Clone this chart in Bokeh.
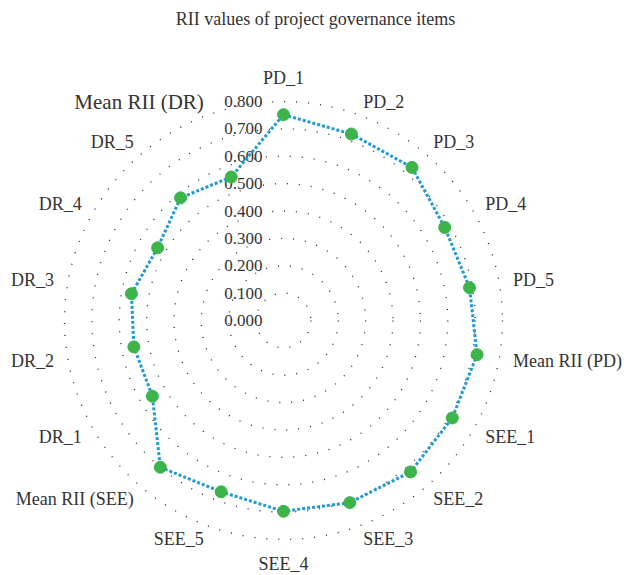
import numpy as np
from bokeh.plotting import figure
from bokeh.models import ColumnDataSource, Range1d, Label
from bokeh.core.properties import value
from bokeh.embed import file_html
from bokeh.resources import INLINE

categories = ["PD_1", "PD_2", "PD_3", "PD_4", "PD_5", "Mean RII (PD)",
              "SEE_1", "SEE_2", "SEE_3", "SEE_4", "SEE_5", "Mean RII (SEE)",
              "DR_1", "DR_2", "DR_3", "DR_4", "DR_5", "Mean RII (DR)"]
rii = [0.752, 0.725, 0.730, 0.680, 0.690, 0.718,
       0.712, 0.722, 0.708, 0.697, 0.666, 0.700,
       0.553, 0.555, 0.564, 0.531, 0.585, 0.558]
ticks = [0.0, 0.1, 0.2, 0.3, 0.4, 0.5, 0.6, 0.7, 0.8]
tick_labels = ["0.000", "0.100", "0.200", "0.300", "0.400", "0.500", "0.600", "0.700", "0.800"]
title = "RII values of project governance items"

W, H = 624, 575
cx, cy = 283, 320          # pixel centre of the radar
scale = 219 / 0.8          # pixels per unit value
FONT_NAME = "serif"
FONT = value(FONT_NAME)
TXT = "#333333"

p = figure(width=W, height=H, output_backend="svg", toolbar_location=None,
           x_axis_type=None, y_axis_type=None, min_border=0,
           x_range=Range1d(-cx / scale, (W - cx) / scale),
           y_range=Range1d(-(H - cy) / scale, cy / scale))
p.grid.visible = False
p.outline_line_color = None
p.background_fill_color = "white"

n = len(categories)
theta = np.arange(n) * 2 * np.pi / n
vals = np.array(rii)

# rings
for t in ticks[1:]:
    p.circle(x=0, y=0, radius=t, fill_color=None, line_color="#222222",
             line_width=1.3, line_dash="1 11")

# tick labels
p.text(x=[0] * len(ticks), y=ticks, text=tick_labels, x_offset=-21,
       text_align="right", text_baseline="middle", text_font=FONT,
       text_font_size="17px", text_color=TXT)

# series
xs = vals * np.sin(theta)
ys = vals * np.cos(theta)
p.line(x=list(xs) + [xs[0]], y=list(ys) + [ys[0]], line_color="#1f9ad6",
       line_width=3, line_dash="3 2")
p.scatter(x=xs, y=ys, size=12, fill_color="#3cb44a", line_color="#3cb44a")

# category labels
R = 233 / scale
sx, cyy = np.sin(theta), np.cos(theta)
aligns = ["left" if s > 0.1 else ("right" if s < -0.1 else "center") for s in sx]
bases = ["bottom" if c > 0.95 else ("top" if c < -0.95 else "middle") for c in cyy]
sizes = ["21px" if c == "Mean RII (DR)" else "18px" for c in categories]
src = ColumnDataSource(dict(x=R * sx, y=R * cyy, text=categories,
                            align=aligns, base=bases, size=sizes))
p.text(x="x", y="y", text="text", source=src, text_align="align",
       text_baseline="base", text_font_size="size", text_font=FONT,
       text_color=TXT)

p.add_layout(Label(x=315, y=H - 18, x_units="screen", y_units="screen",
                   text=title, text_align="center", text_baseline="middle",
                   text_font=FONT_NAME, text_font_size="18px",
                   text_color=TXT))

open("out.html", "w").write(file_html(p, INLINE))
